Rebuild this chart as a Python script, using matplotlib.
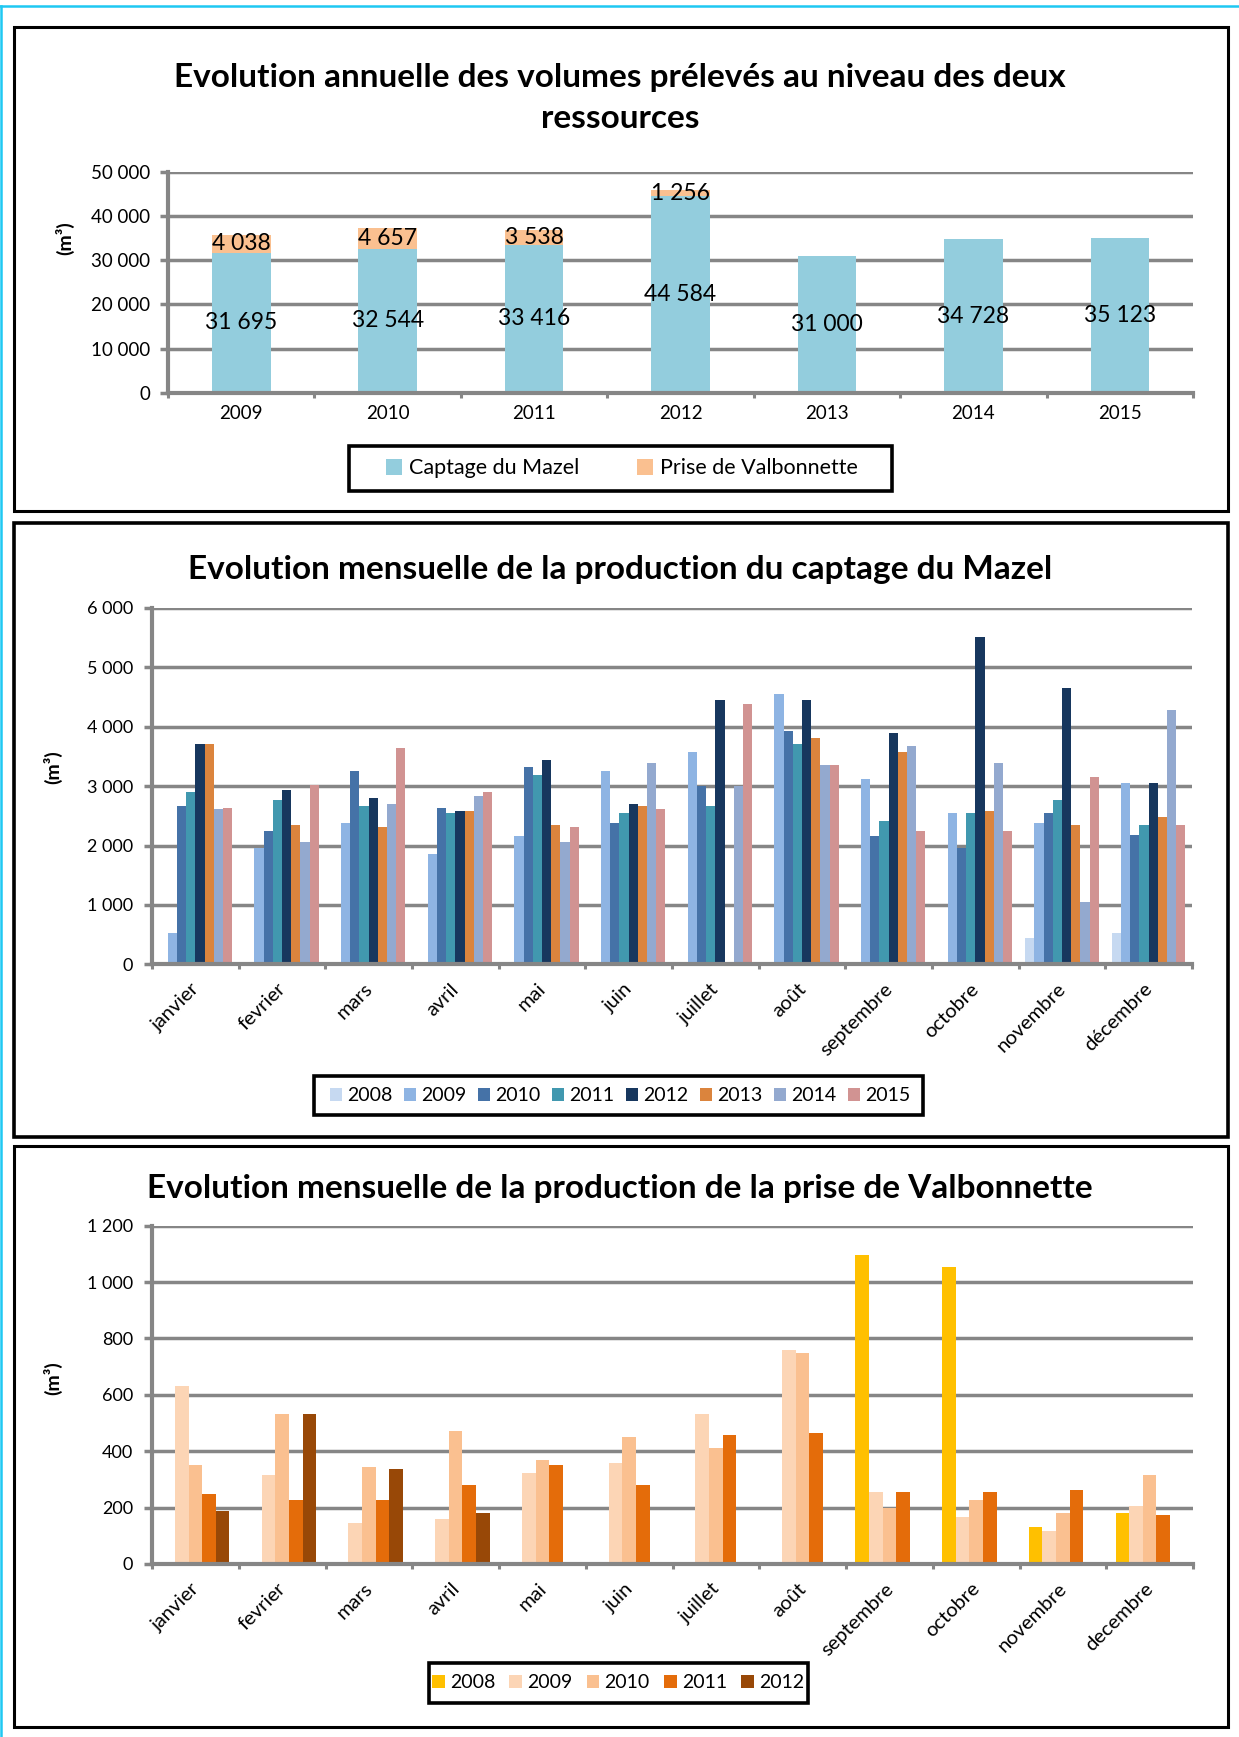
import matplotlib
matplotlib.use("Agg")
import matplotlib.pyplot as plt
from matplotlib.patches import Rectangle, Patch
from matplotlib.lines import Line2D
from matplotlib.transforms import ScaledTranslation
import numpy as np

plt.rcParams['font.family'] = ['Lato', 'DejaVu Sans']

W, H = 1239, 1737
DPI = 100

# ---------------- data ----------------
years_annual = ["2009", "2010", "2011", "2012", "2013", "2014", "2015"]
mazel_annual = [31695, 32544, 33416, 44584, 31000, 34728, 35123]
valb_annual = [4038, 4657, 3538, 1256, 0, 0, 0]

months_mazel = ["janvier", "fevrier", "mars", "avril", "mai", "juin", "juillet",
                "août", "septembre", "octobre", "novembre", "décembre"]
months_valb = ["janvier", "fevrier", "mars", "avril", "mai", "juin", "juillet",
               "août", "septembre", "octobre", "novembre", "decembre"]

mazel_years = ["2008", "2009", "2010", "2011", "2012", "2013", "2014", "2015"]
mazel_2008 = [0, 0, 0, 0, 0, 0, 0, 0, 0, 0, 440, 535]
mazel_2009 = [535, 1955, 2375, 1850, 2155, 3250, 3575, 4550, 3115, 2540, 2375, 3050]
mazel_2010 = [2665, 2240, 3250, 2625, 3325, 2375, 3000, 3930, 2155, 1960, 2540, 2185]
mazel_2011 = [2900, 2760, 2665, 2540, 3185, 2540, 2665, 3710, 2405, 2540, 2760, 2340]
mazel_2012 = [3710, 2930, 2795, 2580, 3440, 2700, 4450, 4450, 3890, 5510, 4650, 3050]
mazel_2013 = [3710, 2340, 2310, 2580, 2340, 2665, 0, 3805, 3575, 2580, 2340, 2475]
mazel_2014 = [2615, 2060, 2700, 2830, 2060, 3385, 3000, 3355, 3670, 3385, 1050, 4275]
mazel_2015 = [2625, 3015, 3640, 2895, 2310, 2615, 4380, 3355, 2240, 2240, 3150, 2340]
mazel_monthly = [mazel_2008, mazel_2009, mazel_2010, mazel_2011,
                 mazel_2012, mazel_2013, mazel_2014, mazel_2015]

valb_years = ["2008", "2009", "2010", "2011", "2012"]
valb_2008 = [0, 0, 0, 0, 0, 0, 0, 0, 1095, 1053, 131, 180]
valb_2009 = [630, 316, 145, 160, 324, 358, 533, 760, 255, 167, 117, 205]
valb_2010 = [351, 533, 344, 473, 369, 452, 412, 747, 200, 227, 180, 316]
valb_2011 = [248, 227, 227, 281, 351, 281, 459, 466, 255, 255, 262, 174]
valb_2012 = [187, 533, 338, 180, 0, 0, 0, 0, 0, 0, 0, 0]
valb_monthly = [valb_2008, valb_2009, valb_2010, valb_2011, valb_2012]

# ---------------- styles ----------------
C_MAZEL = "#93CDDD"
C_VALB = "#FAC090"
mazel_colors = ["#C6D9F1", "#8EB4E3", "#4572A7", "#4198AF",
                "#17375E", "#DB843D", "#93A9CF", "#D19392"]
valb_colors = ["#FFC000", "#FCD5B5", "#FAC090", "#E46C0A", "#984807"]
GRID = "#868686"


def fmt(v):
    return f"{int(v):,}".replace(",", " ")


fig = plt.figure(figsize=(W / DPI, H / DPI), dpi=DPI)
fig.patch.set_facecolor("white")


def add_ax(l, r, t, b):
    return fig.add_axes([l / W, 1 - b / H, (r - l) / W, (b - t) / H])


def frame(l, t, r, b, lw=2.2):
    fig.add_artist(Rectangle((l / W, 1 - b / H), (r - l) / W, (b - t) / H,
                             transform=fig.transFigure, fill=False,
                             ec="black", lw=lw, zorder=10))


def style_axes(ax, n, ymax, ystep, yfs, ypad):
    ax.set_xlim(-0.5, n - 0.5)
    ax.set_ylim(0, ymax)
    ax.set_yticks(np.arange(0, ymax + 1, ystep))
    ax.set_yticklabels([fmt(v) for v in np.arange(0, ymax + 1, ystep)], fontsize=yfs)
    ax.set_axisbelow(True)
    ax.grid(axis="y", color=GRID, lw=2.5)
    for s in ["top", "right"]:
        ax.spines[s].set_visible(False)
    for s in ["left", "bottom"]:
        ax.spines[s].set_color(GRID)
        ax.spines[s].set_linewidth(3.0)
    ax.tick_params(axis="y", length=5.8, width=2.5, color=GRID, pad=ypad,
                   labelcolor="black")
    ax.set_xticks(np.arange(-0.5, n, 1.0), minor=True)
    ax.tick_params(axis="x", which="minor", length=3.5, width=2.2, color=GRID)
    ax.tick_params(axis="x", which="major", length=0, labelcolor="black")


def month_labels(ax, labels):
    ax.set_xticks(np.arange(len(labels)))
    ax.set_xticklabels(labels, fontsize=14.5, rotation=45, ha="right",
                       va="top", rotation_mode="anchor")
    ax.tick_params(axis="x", which="major", pad=11.5)
    for lab in ax.get_xticklabels():
        lab.set_transform(lab.get_transform() +
                          ScaledTranslation(-5 / DPI, 0, fig.dpi_scale_trans))


# cyan outer border
fig.add_artist(Line2D([0, 1], [1 - 6 / H, 1 - 6 / H], color="#1EC8F2", lw=1.8,
                      transform=fig.transFigure))
fig.add_artist(Line2D([1.2 / W, 1.2 / W], [0, 1 - 6 / H], color="#1EC8F2", lw=1.8,
                      transform=fig.transFigure))

# panel frames
frame(14, 27, 1228, 511)
frame(14, 523, 1228, 1137, lw=2.6)
frame(14, 1146, 1228, 1727)

# ================= Panel 1 =================
ax1 = add_ax(168, 1193, 172, 392.7)
x1 = np.arange(len(years_annual))
b_m = ax1.bar(x1, mazel_annual, width=0.40, color=C_MAZEL, label="Captage du Mazel", zorder=2)
b_v = ax1.bar(x1, valb_annual, width=0.40, bottom=mazel_annual, color=C_VALB,
              label="Prise de Valbonnette", zorder=2)
style_axes(ax1, len(years_annual), 50000, 10000, 13.5, 7.2)
ax1.set_xticks(x1)
ax1.set_xticklabels(years_annual, fontsize=13.5)
ax1.tick_params(axis="x", which="major", pad=9)
for xi, m, v in zip(x1, mazel_annual, valb_annual):
    ax1.text(xi, m / 2, fmt(m), ha="center", va="center", fontsize=16.5, zorder=3)
    if v > 0:
        ax1.text(xi, m + v / 2, fmt(v), ha="center", va="center", fontsize=16.5, zorder=3)

fig.text(620 / W, 1 - 87.3 / H, "Evolution annuelle des volumes prélevés au niveau des deux",
         ha="center", va="baseline", fontsize=24, fontweight="bold")
fig.text(620 / W, 1 - 128.3 / H, "ressources",
         ha="center", va="baseline", fontsize=24, fontweight="bold")
fig.text(65 / W, 1 - 238 / H, "(m³)", rotation=90, ha="center", va="center",
         fontsize=14, fontweight="bold")

frame(349, 446, 892, 491, lw=2.6)
fig.legend(handles=[b_m, b_v], labels=["Captage du Mazel", "Prise de Valbonnette"],
           loc="center", bbox_to_anchor=(622 / W, 1 - 468.5 / H), ncol=2,
           frameon=False, fontsize=15.5, handlelength=0.74, handleheight=0.8,
           handletextpad=0.32, columnspacing=2.7, borderpad=0.2)

# ================= Panel 2 =================
ax2 = add_ax(152, 1192, 608, 964.3)
n2 = len(months_mazel)
x2 = np.arange(n2)
ns = len(mazel_years)
slot = 0.106
handles2 = []
for k, (yr, vals, col) in enumerate(zip(mazel_years, mazel_monthly, mazel_colors)):
    off = (k - (ns - 1) / 2) * slot
    h = ax2.bar(x2 + off, vals, width=slot, color=col, label=yr, zorder=2)
    handles2.append(h)
style_axes(ax2, n2, 6000, 1000, 13, 8)
month_labels(ax2, months_mazel)

fig.text(620 / W, 1 - 579.3 / H, "Evolution mensuelle de la production du captage du Mazel",
         ha="center", va="baseline", fontsize=24, fontweight="bold")
fig.text(53 / W, 1 - 767 / H, "(m³)", rotation=90, ha="center", va="center",
         fontsize=14, fontweight="bold")

frame(314, 1076, 922.5, 1115, lw=2.6)
fig.legend(handles=handles2, labels=mazel_years, loc="center",
           bbox_to_anchor=(620 / W, 1 - 1095.5 / H), ncol=ns, frameon=False,
           fontsize=14, handlelength=0.64, handleheight=0.64, handletextpad=0.26,
           columnspacing=0.58, borderpad=0.2)

# ================= Panel 3 =================
ax3 = add_ax(152, 1193, 1225.7, 1564)
n3 = len(months_valb)
x3 = np.arange(n3)
ns3 = len(valb_years)
slot3 = 0.157
handles3 = []
for k, (yr, vals, col) in enumerate(zip(valb_years, valb_monthly, valb_colors)):
    off = (k - (ns3 - 1) / 2) * slot3
    h = ax3.bar(x3 + off, vals, width=slot3, color=col, label=yr, zorder=2)
    handles3.append(h)
style_axes(ax3, n3, 1200, 200, 13, 8)
month_labels(ax3, months_valb)

fig.text(620 / W, 1 - 1198.3 / H, "Evolution mensuelle de la production de la prise de Valbonnette",
         ha="center", va="baseline", fontsize=24, fontweight="bold")
fig.text(53 / W, 1 - 1378 / H, "(m³)", rotation=90, ha="center", va="center",
         fontsize=14, fontweight="bold")

frame(428.6, 1662.7, 807.8, 1702.7, lw=2.6)
fig.legend(handles=handles3, labels=valb_years, loc="center",
           bbox_to_anchor=(618 / W, 1 - 1682.7 / H), ncol=ns3, frameon=False,
           fontsize=14, handlelength=0.66, handleheight=0.62, handletextpad=0.26,
           columnspacing=0.72, borderpad=0.2)

fig.savefig("out.png", dpi=DPI, facecolor="white")
